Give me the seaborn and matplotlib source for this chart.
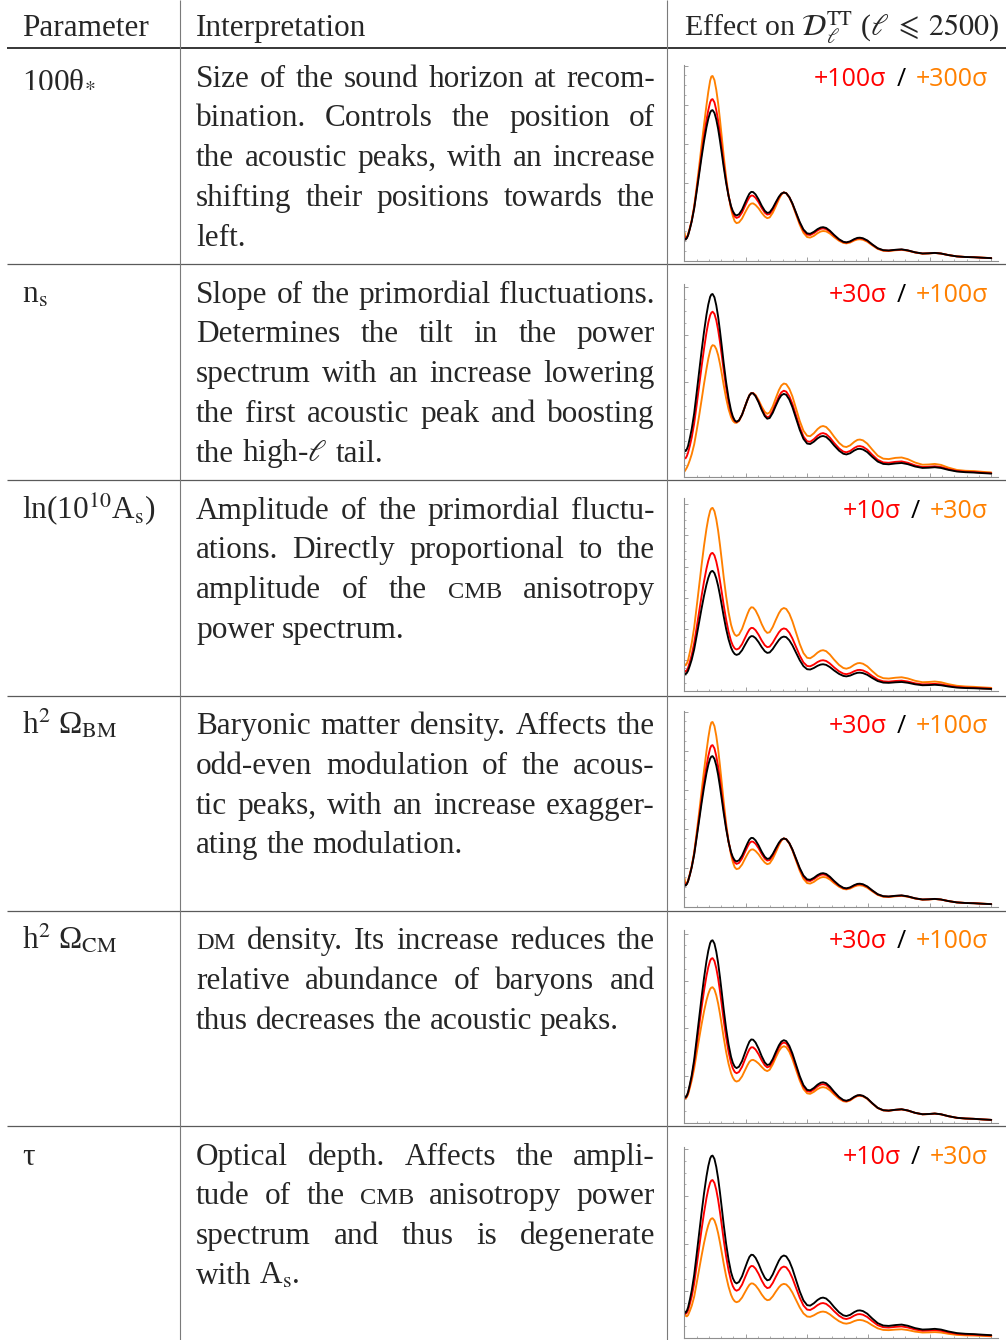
import matplotlib
matplotlib.use("Agg")
import matplotlib.pyplot as plt
import seaborn as sns
from matplotlib.ticker import MultipleLocator

# ---------------------------------------------------------------- data
ELL = [2, 10, 20, 30, 45, 60, 80, 100, 120, 140,
       160, 180, 195, 210, 220, 230, 245, 260, 275, 290,
       305, 320, 340, 360, 380, 395, 410, 425, 445, 470,
       495, 515, 530, 545, 560, 580, 605, 630, 655, 675,
       695, 720, 745, 770, 790, 810, 830, 855, 880, 910,
       940, 970, 1000, 1025, 1055, 1085, 1110, 1130, 1155, 1185,
       1220, 1260, 1295, 1320, 1350, 1385, 1410, 1430, 1455, 1490,
       1530, 1575, 1620, 1665, 1720, 1770, 1820, 1880, 1940, 1990,
       2040, 2090, 2150, 2220, 2290, 2360, 2430, 2500]

DL_FIDUCIAL = [570, 540, 580, 650, 820, 1010, 1340, 1770, 2210, 2650,
               3060, 3420, 3640, 3800, 3850, 3860, 3790, 3620, 3380, 3080,
               2750, 2410, 2000, 1660, 1400, 1270, 1190, 1160, 1190, 1310,
               1490, 1630, 1720, 1765, 1760, 1700, 1570, 1410, 1280, 1225,
               1240, 1350, 1500, 1640, 1720, 1750, 1730, 1630, 1470, 1230,
               990, 800, 700, 690, 740, 810, 850, 860, 840, 770,
               660, 550, 485, 470, 495, 555, 585, 590, 575, 520,
               420, 320, 270, 262, 280, 290, 265, 215, 185, 190,
               200, 185, 145, 110, 95, 88, 76, 66]

DL_THETA_RED = [617, 549, 586, 657, 828, 1021, 1359, 1809, 2274, 2748,
                3198, 3601, 3862, 4062, 4131, 4142, 4059, 3863, 3590, 3252,
                2882, 2502, 2044, 1665, 1378, 1229, 1133, 1097, 1123, 1237,
                1410, 1542, 1627, 1670, 1667, 1613, 1498, 1351, 1233, 1182,
                1198, 1311, 1467, 1619, 1711, 1750, 1730, 1627, 1463, 1214,
                968, 773, 670, 659, 707, 776, 818, 828, 811, 747,
                642, 538, 476, 462, 486, 543, 572, 577, 562, 509,
                412, 314, 265, 258, 276, 286, 262, 213, 184, 189,
                199, 184, 145, 110, 95, 89, 76, 66]
DL_THETA_ORANGE = [718, 567, 597, 670, 845, 1045, 1400, 1894, 2409, 2955,
                   3488, 3984, 4332, 4617, 4724, 4736, 4631, 4380, 4039, 3619,
                   3163, 2699, 2140, 1677, 1330, 1143, 1012, 963, 982, 1081,
                   1237, 1353, 1428, 1465, 1470, 1428, 1342, 1227, 1133, 1090,
                   1110, 1229, 1395, 1574, 1694, 1750, 1730, 1622, 1448, 1181,
                   921, 716, 606, 593, 636, 705, 748, 761, 752, 697,
                   604, 512, 456, 444, 465, 519, 544, 549, 536, 486,
                   395, 302, 255, 249, 267, 278, 256, 209, 180, 186,
                   197, 183, 145, 110, 96, 90, 78, 67]

DL_NS_RED = [393, 389, 435, 507, 656, 828, 1126, 1513, 1912, 2319,
             2702, 3044, 3258, 3412, 3465, 3486, 3438, 3305, 3103, 2846,
             2558, 2256, 1890, 1585, 1355, 1242, 1176, 1153, 1186, 1310,
             1490, 1630, 1720, 1765, 1764, 1709, 1584, 1431, 1307, 1256,
             1275, 1391, 1548, 1696, 1782, 1817, 1797, 1698, 1538, 1292,
             1045, 850, 748, 738, 792, 867, 910, 921, 900, 828,
             713, 598, 530, 516, 543, 608, 641, 647, 631, 572,
             465, 356, 302, 294, 314, 323, 295, 239, 205, 210,
             220, 204, 159, 120, 104, 97, 84, 73]
DL_NS_ORANGE = [114, 146, 191, 247, 353, 475, 683, 974, 1282, 1617,
                1958, 2274, 2493, 2660, 2745, 2779, 2767, 2697, 2569, 2387,
                2173, 1940, 1660, 1428, 1260, 1181, 1142, 1137, 1178, 1310,
                1490, 1630, 1720, 1765, 1769, 1726, 1617, 1481, 1370, 1329,
                1358, 1485, 1661, 1829, 1926, 1969, 1955, 1858, 1698, 1439,
                1178, 972, 865, 856, 918, 1006, 1057, 1071, 1050, 970,
                845, 715, 640, 627, 661, 738, 778, 785, 768, 699,
                575, 445, 381, 372, 398, 406, 371, 299, 253, 258,
                270, 250, 193, 143, 125, 119, 103, 90]

DL_AS_RED = [656, 621, 667, 748, 943, 1162, 1541, 2036, 2542, 3048,
             3519, 3933, 4186, 4370, 4428, 4439, 4359, 4163, 3887, 3542,
             3163, 2772, 2300, 1909, 1610, 1461, 1369, 1334, 1369, 1507,
             1714, 1875, 1978, 2030, 2024, 1955, 1806, 1622, 1472, 1409,
             1426, 1553, 1725, 1886, 1978, 2013, 1990, 1875, 1691, 1415,
             1139, 920, 805, 794, 851, 932, 978, 989, 966, 886,
             759, 633, 558, 541, 569, 638, 673, 679, 661, 598,
             483, 368, 311, 301, 322, 334, 305, 247, 213, 219,
             230, 213, 167, 127, 109, 101, 87, 76]
DL_AS_ORANGE = [869, 824, 885, 991, 1251, 1540, 2044, 2699, 3370, 4041,
                4667, 5216, 5551, 5795, 5871, 5887, 5780, 5521, 5155, 4697,
                4194, 3675, 3050, 2532, 2135, 1937, 1815, 1769, 1815, 1998,
                2272, 2486, 2623, 2692, 2684, 2593, 2394, 2150, 1952, 1868,
                1891, 2059, 2288, 2501, 2623, 2669, 2638, 2486, 2242, 1876,
                1510, 1220, 1068, 1052, 1129, 1235, 1296, 1312, 1281, 1174,
                1007, 839, 740, 717, 755, 846, 892, 900, 877, 793,
                641, 488, 412, 400, 427, 442, 404, 328, 282, 290,
                305, 282, 221, 168, 145, 134, 116, 101]

# the baryon panel in the reference shows the same curves as the theta panel
DL_OMB_RED = list(DL_THETA_RED)
DL_OMB_ORANGE = list(DL_THETA_ORANGE)

DL_OMC_RED = [561, 531, 568, 632, 792, 968, 1269, 1655, 2046, 2433,
              2794, 3105, 3294, 3431, 3473, 3482, 3422, 3269, 3056, 2787,
              2489, 2181, 1812, 1504, 1270, 1152, 1079, 1052, 1078, 1187,
              1350, 1477, 1558, 1599, 1598, 1552, 1451, 1324, 1220, 1176,
              1197, 1308, 1457, 1594, 1672, 1701, 1682, 1583, 1426, 1189,
              954, 769, 672, 662, 709, 774, 812, 820, 804, 740,
              638, 536, 475, 462, 488, 548, 579, 584, 570, 516,
              417, 318, 269, 261, 279, 289, 264, 214, 184, 189,
              199, 184, 144, 110, 95, 88, 76, 66]
DL_OMC_ORANGE = [547, 516, 548, 605, 746, 899, 1152, 1469, 1779, 2080,
                 2356, 2592, 2730, 2831, 2861, 2868, 2820, 2697, 2525, 2307,
                 2063, 1810, 1504, 1250, 1056, 958, 897, 875, 896, 985,
                 1120, 1226, 1293, 1327, 1334, 1309, 1256, 1184, 1120, 1096,
                 1126, 1239, 1385, 1519, 1594, 1622, 1602, 1506, 1352, 1123,
                 896, 718, 627, 616, 658, 716, 749, 757, 744, 691,
                 603, 513, 460, 449, 476, 538, 569, 575, 562, 509,
                 412, 315, 266, 259, 277, 287, 262, 213, 183, 188,
                 198, 183, 144, 109, 94, 87, 75, 65]

DL_TAU_RED = [564, 518, 539, 592, 730, 884, 1160, 1533, 1914, 2295,
              2650, 2962, 3152, 3291, 3334, 3343, 3282, 3135, 2927, 2667,
              2382, 2087, 1732, 1438, 1212, 1100, 1031, 1005, 1031, 1134,
              1290, 1412, 1490, 1528, 1524, 1472, 1360, 1221, 1108, 1061,
              1074, 1169, 1299, 1420, 1490, 1516, 1498, 1412, 1273, 1065,
              857, 693, 606, 598, 641, 701, 736, 745, 727, 667,
              572, 476, 420, 407, 429, 481, 507, 511, 498, 450,
              364, 277, 234, 227, 242, 251, 229, 186, 160, 165,
              173, 160, 126, 95, 82, 76, 66, 57]
DL_TAU_ORANGE = [559, 475, 464, 488, 582, 687, 880, 1163, 1452, 1741,
                 2010, 2247, 2391, 2497, 2529, 2536, 2490, 2378, 2221, 2024,
                 1807, 1583, 1314, 1091, 920, 834, 782, 762, 782, 861,
                 979, 1071, 1130, 1160, 1156, 1117, 1031, 926, 841, 805,
                 815, 887, 986, 1077, 1130, 1150, 1137, 1071, 966, 808,
                 650, 526, 460, 453, 486, 532, 558, 565, 552, 506,
                 434, 361, 319, 309, 325, 365, 384, 388, 378, 342,
                 276, 210, 177, 172, 184, 191, 174, 141, 122, 125,
                 131, 122, 95, 72, 62, 58, 50, 43]

PARAM_LABELS = [r"100θ$_{*}$", r"n$_\mathrm{s}$", r"ln(10$^{10}$A$_\mathrm{s}$)",
                r"h$^{2}$ Ω$_\mathrm{BM}$", r"h$^{2}$ Ω$_\mathrm{CM}$", r"τ"]
SIGMA_RED = ["+100σ", "+30σ", "+10σ", "+30σ", "+30σ", "+10σ"]
SIGMA_ORANGE = ["+300σ", "+100σ", "+30σ", "+100σ", "+100σ", "+30σ"]
INTERPRETATION = [
    ["Size of the sound horizon at recom-",
     "bination. Controls the position of",
     "the acoustic peaks, with an increase",
     "shifting their positions towards the",
     "left."],
    ["Slope of the primordial fluctuations.",
     "Determines the tilt in the power",
     "spectrum with an increase lowering",
     "the first acoustic peak and boosting",
     r"the high-$\ell$ tail."],
    ["Amplitude of the primordial fluctu-",
     "ations. Directly proportional to the",
     "amplitude of the CMB anisotropy",
     "power spectrum."],
    ["Baryonic matter density. Affects the",
     "odd-even modulation of the acous-",
     "tic peaks, with an increase exagger-",
     "ating the modulation."],
    ["DM density. Its increase reduces the",
     "relative abundance of baryons and",
     "thus decreases the acoustic peaks."],
    ["Optical depth. Affects the ampli-",
     "tude of the CMB anisotropy power",
     "spectrum and thus is degenerate",
     r"with A$_\mathrm{s}$."],
]
HEADERS = ["Parameter", "Interpretation",
           r"Effect on $\mathcal{D}_{\ell}^{\mathrm{TT}}$ ($\ell\;\leqslant\;2500$)"]
SMALLCAPS = {"CMB", "DM"}

PANELS = [
    (DL_THETA_RED, DL_THETA_ORANGE),
    (DL_NS_RED, DL_NS_ORANGE),
    (DL_AS_RED, DL_AS_ORANGE),
    (DL_OMB_RED, DL_OMB_ORANGE),
    (DL_OMC_RED, DL_OMC_ORANGE),
    (DL_TAU_RED, DL_TAU_ORANGE),
]

# ---------------------------------------------------------------- style
sns.set_style("white")
plt.rcParams["font.family"] = ["Liberation Serif", "DejaVu Serif"]
plt.rcParams["mathtext.fontset"] = "stix"

W, H = 1006, 1340
FS = 22.5
RED = "#ff0000"
ORANGE = "#ff8000"
GRAY_AX = "#8f8f8f"
LAB_FAMILY = ["Open Sans", "DejaVu Sans"]
LAB_FS = 18

ROW_TOP = [48, 264, 480, 695.5, 910.5, 1126]
ROW_RULES = [264, 480, 695.5, 910.5, 1126]
AX_TOP = [65, 284.3, 498.3, 711, 930.3, 1146.7]
AX_BOT = [260.7, 476.7, 691, 906.7, 1123, 1338.3]
Y_TOP = [5018, 4065, 6196, 5018, 4071, 4048]
LINE_PITCH = 39.7
FIRST_BASE = 38.7
HEADER_BASE = 36
COL_X = [22, 196, 684]
TEXT_RIGHT = 655

fig = plt.figure(figsize=(W / 100, H / 100), dpi=100)
bg = fig.add_axes([0, 0, 1, 1])
bg.set_xlim(0, W)
bg.set_ylim(H, 0)
bg.axis("off")
renderer = fig.canvas.get_renderer()

# table rules
bg.plot([7, W], [48, 48], color="black", lw=1.1, solid_capstyle="butt")
for y in ROW_RULES:
    bg.plot([7, W], [y, y], color="#5a5a5a", lw=0.9, solid_capstyle="butt")
for x in (180, 667.5):
    bg.plot([x, x], [0, H], color="#7a7a7a", lw=0.8, solid_capstyle="butt")


def text_width(s, size, **kw):
    t = bg.text(0, 0, s, fontsize=size, **kw)
    w = t.get_window_extent(renderer).width
    t.remove()
    return w


def draw_line(line, x0, x1, y, justify):
    words = line.split(" ")
    sizes = [FS * 0.78 if w in SMALLCAPS else FS for w in words]
    widths = [text_width(w, s) for w, s in zip(words, sizes)]
    if justify and len(words) > 1:
        gap = (x1 - x0 - sum(widths)) / (len(words) - 1)
    else:
        gap = 0.25 * FS * 100 / 72
    x = x0
    for w, s, wd in zip(words, sizes, widths):
        bg.text(x, y, w, fontsize=s, ha="left", va="baseline")
        x += wd + gap


# header
for k, (x, h) in enumerate(zip(COL_X, HEADERS)):
    size = FS
    if k == 2:
        wd = text_width(h, FS)
        size = FS * min(1.0, (999 - x) / wd)
    bg.text(x, HEADER_BASE, h, fontsize=size, ha="left", va="baseline")

# rows
for i, top in enumerate(ROW_TOP):
    base = top + FIRST_BASE
    bg.text(COL_X[0], base, PARAM_LABELS[i], fontsize=FS, ha="left", va="baseline")
    lines = INTERPRETATION[i]
    for j, line in enumerate(lines):
        draw_line(line, COL_X[1], TEXT_RIGHT, base + j * LINE_PITCH,
                  justify=(j < len(lines) - 1))

# mini plots
for i, (red, orange) in enumerate(PANELS):
    ax = fig.add_axes([684 / W, 1 - AX_BOT[i] / H, (998 - 684) / W,
                       (AX_BOT[i] - AX_TOP[i]) / H])
    ax.patch.set_alpha(0)
    sns.lineplot(x=ELL, y=orange, ax=ax, color=ORANGE, linewidth=1.35, legend=False)
    sns.lineplot(x=ELL, y=red, ax=ax, color=RED, linewidth=1.35, legend=False)
    sns.lineplot(x=ELL, y=DL_FIDUCIAL, ax=ax, color="black", linewidth=1.35, legend=False)
    ax.set_xlim(-3, 2555)
    ax.set_ylim(0, Y_TOP[i])
    ax.set_xlabel("")
    ax.set_ylabel("")
    for s in ("top", "right"):
        ax.spines[s].set_visible(False)
    for s in ("left", "bottom"):
        ax.spines[s].set_color(GRAY_AX)
        ax.spines[s].set_linewidth(0.8)
    ax.xaxis.set_major_locator(MultipleLocator(500))
    ax.xaxis.set_minor_locator(MultipleLocator(100))
    ax.yaxis.set_major_locator(MultipleLocator(1000))
    ax.yaxis.set_minor_locator(MultipleLocator(250))
    ax.tick_params(which="major", direction="in", length=2.6, width=0.6,
                   color=GRAY_AX, labelbottom=False, labelleft=False,
                   bottom=True, left=True)
    ax.tick_params(which="minor", direction="in", length=1.4, width=0.5,
                   color=GRAY_AX, bottom=True, left=True)

    # sigma labels: right piece, slash, left piece
    R = 988
    yb = ROW_TOP[i] + 37.5
    lab_kw = dict(fontsize=LAB_FS, family=LAB_FAMILY, va="baseline", ha="right")
    wr = text_width(SIGMA_ORANGE[i], LAB_FS, family=LAB_FAMILY)
    ws = text_width("/", LAB_FS, family=LAB_FAMILY)
    bg.text(R, yb, SIGMA_ORANGE[i], color=ORANGE, **lab_kw)
    bg.text(R - wr - 10, yb, "/", color="black", **lab_kw)
    bg.text(R - wr - 10 - ws - 10, yb, SIGMA_RED[i], color=RED, **lab_kw)

fig.savefig("out.png", dpi=100)
